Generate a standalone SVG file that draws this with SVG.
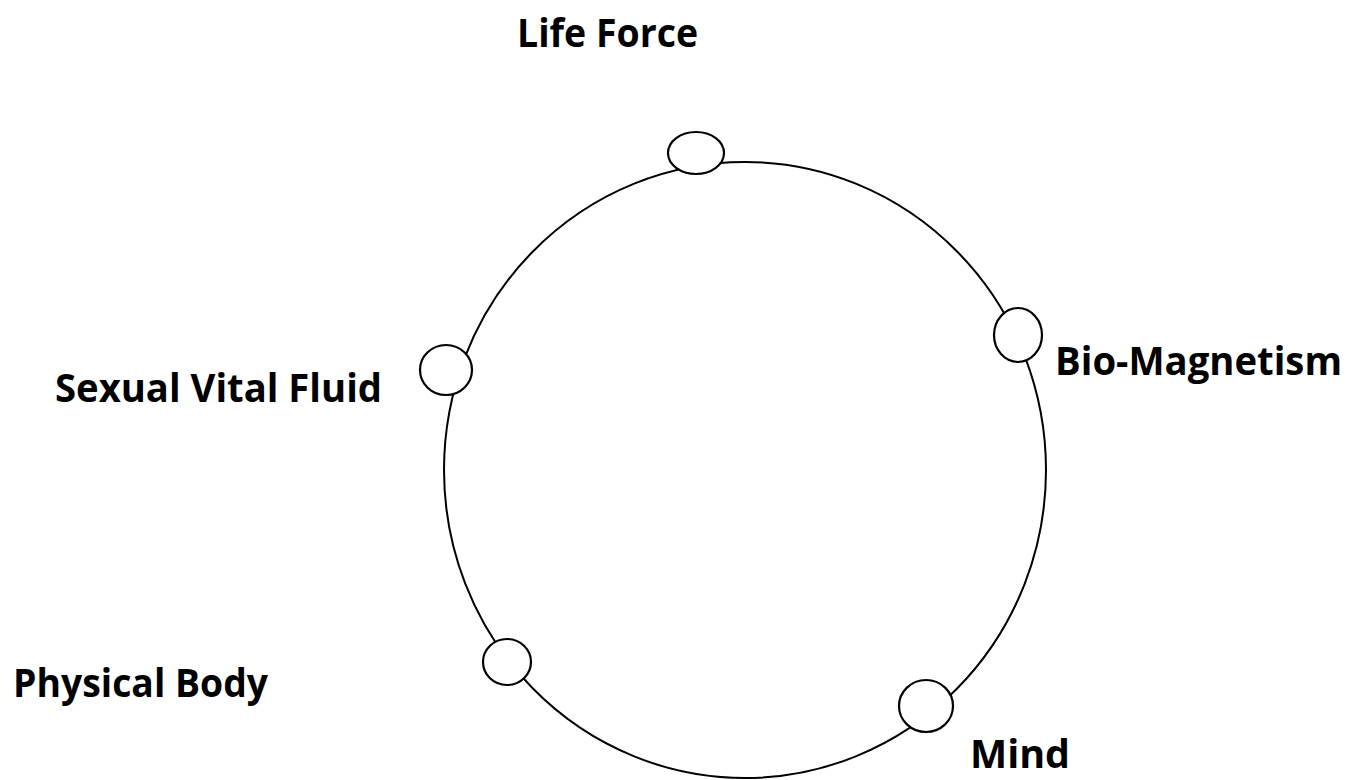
<svg xmlns="http://www.w3.org/2000/svg" width="1358" height="780" viewBox="0 0 1358 780">
<style>
.ring{fill:none;stroke:#000;stroke-width:2}
.node{fill:#fff;stroke:#000;stroke-width:2.2}
.lbl{font-family:"Open Sans","Liberation Sans",sans-serif;font-weight:bold;font-size:40px;fill:#000}
</style>
<rect width="1358" height="780" fill="#fff"/>
<g id="connectors">
<ellipse class="ring" cx="745" cy="470" rx="301" ry="308"/>
</g>
<g id="life-force">
<ellipse class="node" cx="696" cy="153" rx="28" ry="21"/>
<text class="lbl" x="517" y="47" textLength="181" lengthAdjust="spacingAndGlyphs">Life Force</text>
</g>
<g id="bio-magnetism">
<ellipse class="node" cx="1018" cy="335" rx="24" ry="27"/>
<text class="lbl" x="1055" y="375" textLength="287" lengthAdjust="spacingAndGlyphs">Bio-Magnetism</text>
</g>
<g id="sexual-vital-fluid">
<ellipse class="node" cx="446" cy="370" rx="26" ry="25"/>
<text class="lbl" x="55" y="402" textLength="327" lengthAdjust="spacingAndGlyphs">Sexual Vital Fluid</text>
</g>
<g id="physical-body">
<ellipse class="node" cx="507" cy="662" rx="24" ry="23"/>
<text class="lbl" x="13" y="697" textLength="255" lengthAdjust="spacingAndGlyphs">Physical Body</text>
</g>
<g id="mind">
<ellipse class="node" cx="926" cy="706" rx="27" ry="26"/>
<text class="lbl" x="970" y="768" textLength="100" lengthAdjust="spacingAndGlyphs">Mind</text>
</g>
</svg>
